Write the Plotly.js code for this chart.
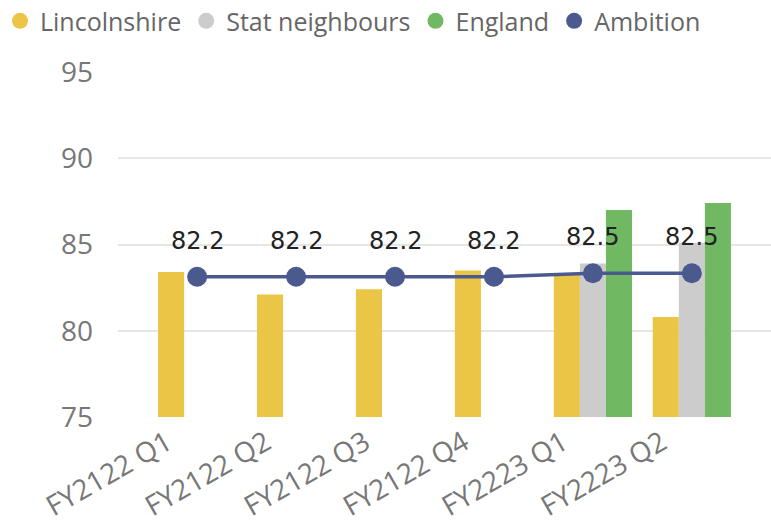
<!DOCTYPE html>
<html>
<head>
<meta charset="utf-8">
<script src="https://cdn.plot.ly/plotly-3.0.1.min.js"></script>
<style>html,body{margin:0;padding:0;background:#fff;}#chart{width:771px;height:524px;}</style>
</head>
<body>
<div id="chart"></div>
<script>
const categories = ["FY2122 Q1", "FY2122 Q2", "FY2122 Q3", "FY2122 Q4", "FY2223 Q1", "FY2223 Q2"];
const lincolnshire = [83.4, 82.1, 82.4, 83.5, 83.3, 80.8];
const statNeighbours = [null, null, null, null, 83.9, 85.1];
const england = [null, null, null, null, 87.0, 87.4];
const ambition = [82.2, 82.2, 82.2, 82.2, 82.5, 82.5];
const yTicks = [75, 80, 85, 90, 95];

const colors = {lin: "#EBC545", stat: "#CCCCCC", eng: "#70B862", amb: "#4A5A8E"};

const traces = [
  {type: "bar", name: "Lincolnshire", x: categories, y: lincolnshire, marker: {color: colors.lin}, showlegend: false},
  {type: "bar", name: "Stat neighbours", x: categories, y: statNeighbours, marker: {color: colors.stat}, showlegend: false},
  {type: "bar", name: "England", x: categories, y: england, marker: {color: colors.eng}, showlegend: false},
  {type: "scatter", mode: "lines+markers", name: "Ambition", x: categories, y: ambition, yaxis: "y2",
   line: {color: colors.amb, width: 3.5}, marker: {color: colors.amb, size: 20}, showlegend: false, cliponaxis: false},
  // legend entries (circle symbols)
  {type: "scatter", mode: "markers", name: "Lincolnshire", x: [null], y: [null], marker: {color: colors.lin, size: 20}},
  {type: "scatter", mode: "markers", name: "Stat neighbours", x: [null], y: [null], marker: {color: colors.stat, size: 20}},
  {type: "scatter", mode: "markers", name: "England", x: [null], y: [null], marker: {color: colors.eng, size: 20}},
  {type: "scatter", mode: "markers", name: "Ambition", x: [null], y: [null], marker: {color: colors.amb, size: 20}}
];

const labelAnnotations = categories.map((c, i) => ({
  x: c, y: ambition[i], xref: "x", yref: "y2", text: ambition[i].toFixed(1), showarrow: false,
  yshift: 36, font: {family: "DejaVu Sans", size: 24, color: "#222"}
}));

const layout = {
  width: 771, height: 524,
  margin: {l: 118, r: 0, t: 72, b: 107, pad: 0, autoexpand: false},
  paper_bgcolor: "#fff", plot_bgcolor: "#fff",
  barmode: "group", bargap: 0.21, bargroupgap: 0,
  showlegend: true,
  legend: {orientation: "h", xref: "paper", yref: "paper", x: -0.1807, y: 1.081, xanchor: "left", yanchor: "bottom",
           font: {family: "Open Sans", size: 25, color: "#666"}, itemwidth: 30, tracegroupgap: 0},
  xaxis: {type: "category", range: [-0.8, 5.8], tickangle: -30, showgrid: false, zeroline: false, showline: false,
          tickfont: {family: "Open Sans", size: 28, color: "#777"}, ticks: "", automargin: false,
          ticklabelshift: -30, ticklabelstandoff: 3},
  yaxis: {range: [75, 95], tickvals: yTicks, showgrid: true, gridcolor: "#E6E6E6", gridwidth: 2, zeroline: false, showline: false,
          tickfont: {family: "Open Sans", size: 28, color: "#777"}, ticklabelstandoff: 24, ticks: "", automargin: false},
  yaxis2: {range: [70, 100], overlaying: "y", visible: false, showgrid: false, zeroline: false},
  annotations: labelAnnotations
};

Plotly.newPlot("chart", traces, layout, {displayModeBar: false, staticPlot: true});
</script>
</body>
</html>
